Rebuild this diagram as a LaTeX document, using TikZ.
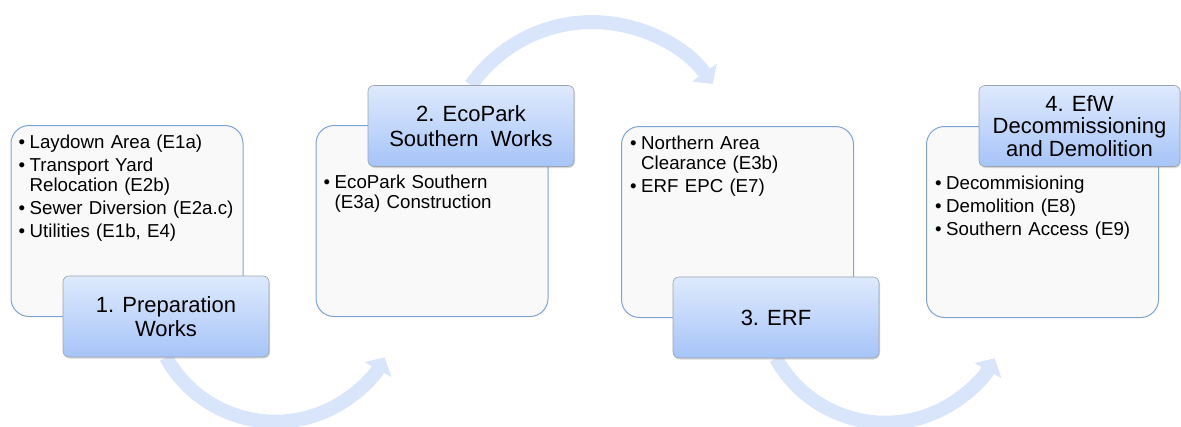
\documentclass[tikz,border=0pt]{standalone}
\usepackage{fontspec}
\setmainfont{Liberation Sans}
\usetikzlibrary{arrows.meta,shadows,backgrounds}
\definecolor{panelline}{HTML}{7FA3D3}
\definecolor{panelfill}{HTML}{F9F9F9}
\definecolor{titletop}{HTML}{DEEAFD}
\definecolor{titlebot}{HTML}{A6C4F8}
\definecolor{titleline}{HTML}{9CA3AD}
\definecolor{flowcol}{HTML}{D9E5FA}
\newcommand{\bitem}[1]{\hangindent=11pt\hangafter=1\noindent\makebox[11pt][l]{\textbullet}#1\par}
\begin{document}
\begin{tikzpicture}[x=1pt,y=-1pt,
    panel/.style={draw=panelline,line width=1pt,fill=panelfill,rounded corners=18pt,
      minimum width=232pt,minimum height=191pt},
    title/.style={draw=titleline,line width=0.6pt,top color=titletop,bottom color=titlebot,
      rounded corners=6pt,minimum width=206pt,minimum height=81pt,inner sep=2pt,align=center,
      font=\fontsize{22}{24.5}\selectfont,
      drop shadow={opacity=0.3,shadow xshift=1pt,shadow yshift=-1.5pt}},
    points/.style={anchor=north west,text width=225pt,align=left,inner sep=0pt,
      font=\fontsize{18.7}{20}\selectfont,execute at begin node={\setlength{\parskip}{3pt}}},
    flow/.style={line width=14pt,draw=flowcol,-{Triangle[length=14pt,width=30pt]}}]
    % Khung
    \useasboundingbox (0,0) rectangle (1181,426);

    % Bang noi dung
    \node[panel] (p1) at (127,221) {};
    \node[panel] (p2) at (432,221) {};
    \node[panel] (p3) at (737.5,222) {};
    \node[panel] (p4) at (1042.5,222) {};

    % Cac muc trong bang
    \node[points] (l1) at ([xshift=8pt,yshift=-10pt]p1.north west) {%
      \bitem{Laydown Area (E1a)}
      \bitem{Transport Yard\newline Relocation (E2b)}
      \bitem{Sewer Diversion (E2a.c)}
      \bitem{Utilities (E1b, E4)}};
    \node[points] (l2) at ([xshift=8pt,yshift=-50pt]p2.north west) {%
      \bitem{EcoPark Southern\newline (E3a) Construction}};
    \node[points] (l3) at ([xshift=9pt,yshift=-10pt]p3.north west) {%
      \bitem{Northern Area\newline Clearance (E3b)}
      \bitem{ERF EPC (E7)}};
    \node[points] (l4) at ([xshift=9pt,yshift=-50pt]p4.north west) {%
      \bitem{Decommisioning}
      \bitem{Demolition (E8)}
      \bitem{Southern Access (E9)}};

    % Tieu de cac giai doan
    \node[title] (t1) at (166,316.5) {1. Preparation\\Works};
    \node[title] (t2) at (471,126) {2. EcoPark\\Southern\ \ Works};
    \node[title] (t3) at (776,317.5) {3. ERF};
    \node[title,minimum width=201pt,font=\fontsize{22}{22.5}\selectfont] (t4) at (1079.5,126)
      {4. EfW\\Decommissioning\\and Demolition};

    % Mui ten noi giai doan
    \begin{scope}[on background layer]
      \draw[flow] (t1.south) arc[start angle=209,end angle=331,radius=125pt];
      \draw[flow] (t2.north) arc[start angle=145,end angle=35.6,radius=148pt];
      \draw[flow] (t3.south) arc[start angle=209,end angle=331,radius=125pt];
    \end{scope}
\end{tikzpicture}
\end{document}
